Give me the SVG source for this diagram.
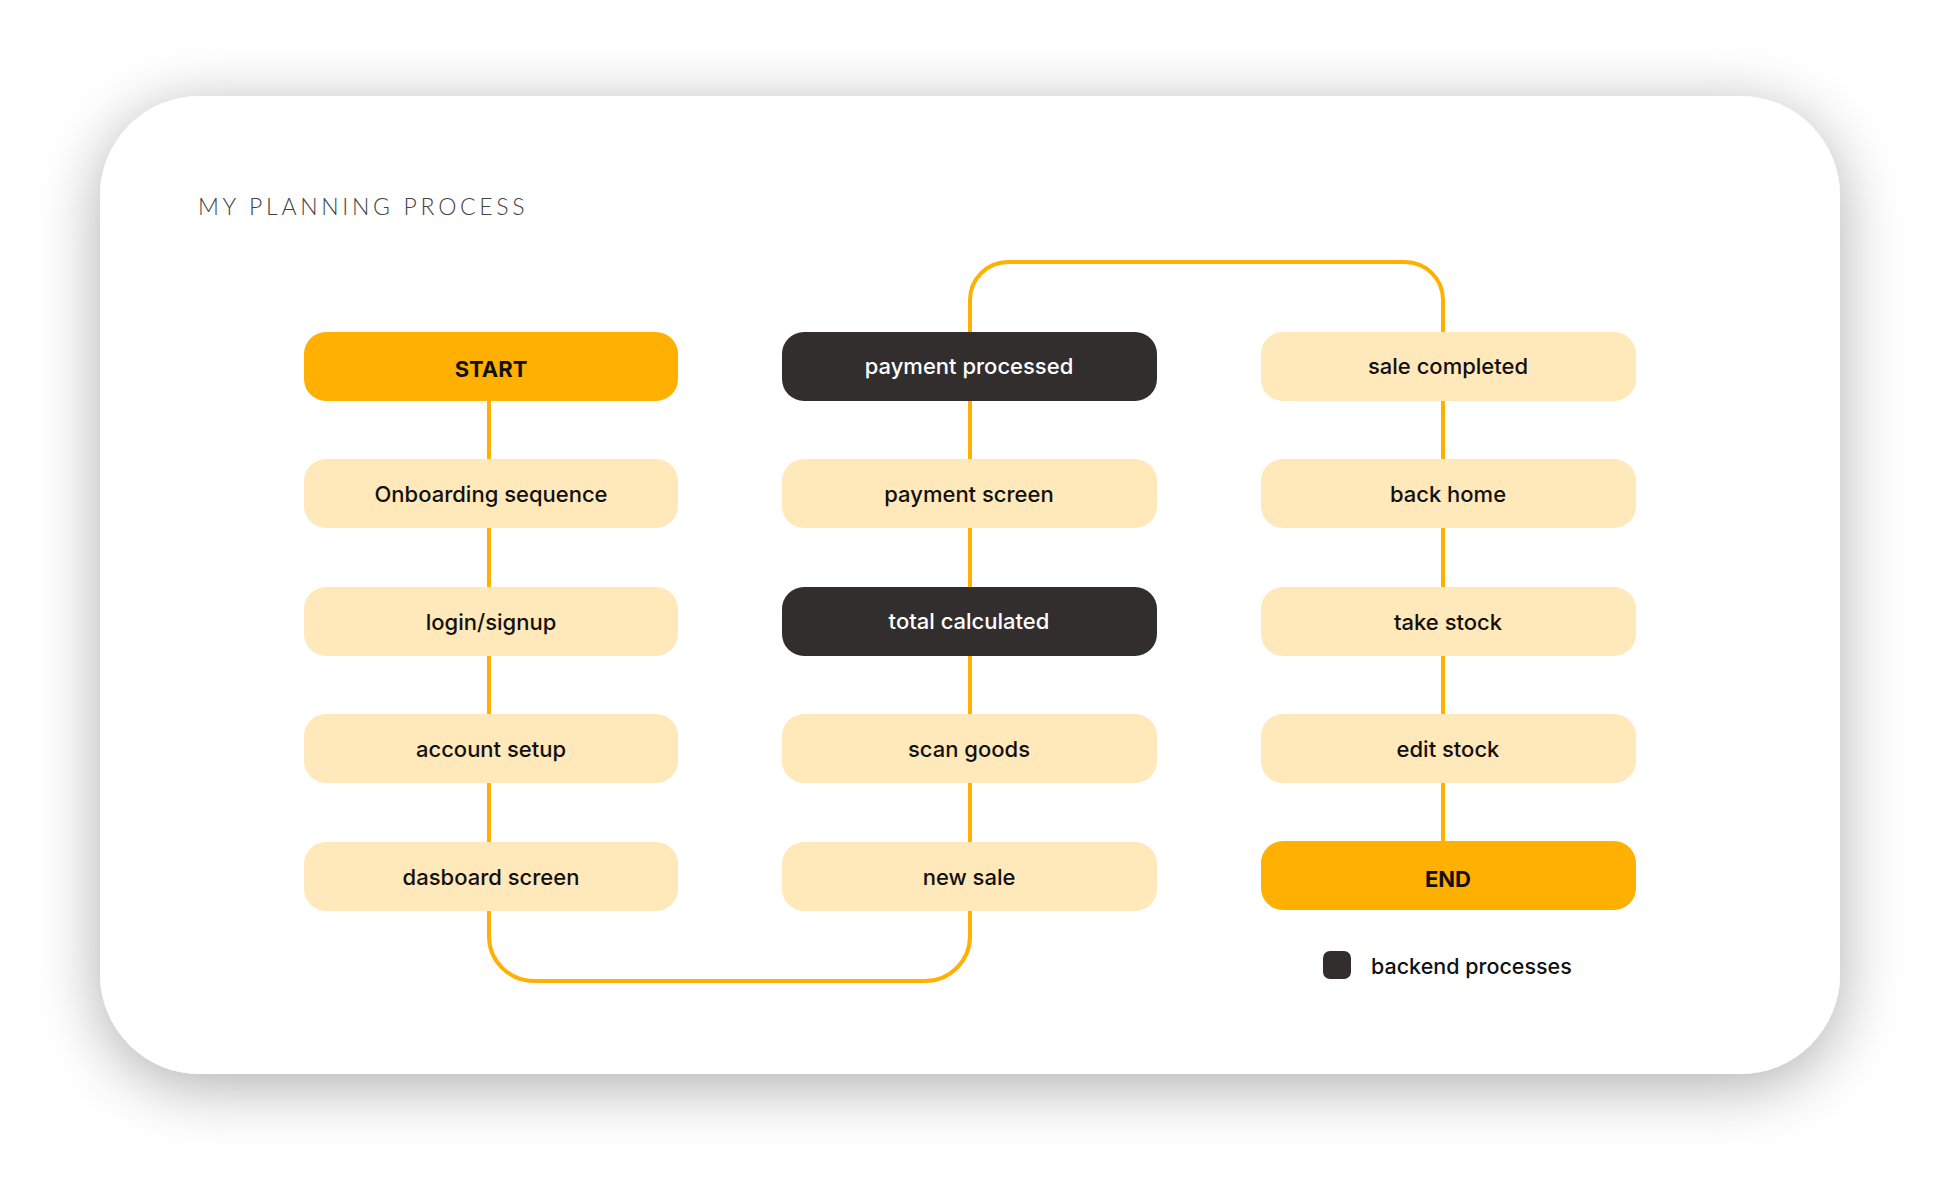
<svg xmlns="http://www.w3.org/2000/svg" width="1940" height="1178" viewBox="0 0 1940 1178">
<defs>
<filter id="shadow" x="-10%" y="-15%" width="120%" height="130%">
<feGaussianBlur in="SourceAlpha" stdDeviation="32"/>
<feOffset dx="0" dy="12" result="b"/>
<feComponentTransfer><feFuncA type="linear" slope="0.32"/></feComponentTransfer>
<feMerge><feMergeNode/><feMergeNode in="SourceGraphic"/></feMerge>
</filter>
<style>
.node rect{rx:22px;ry:22px}
.light rect{fill:#FFE8BA}
.dark rect{fill:#332E2E}
.accent rect{fill:#FFB000}
.node text{font-family:Inter,"Open Sans",sans-serif;font-size:22px;font-weight:500;text-anchor:middle;fill:#111}
.dark text{fill:#fff}
.accent text{font-weight:700}
.conn{fill:none;stroke:#FFB000;stroke-width:4}
</style>
</defs>
<rect width="1940" height="1178" fill="#fff"/>
<rect id="card" x="100" y="96" width="1740" height="978" rx="100" ry="100" fill="#fff" filter="url(#shadow)"/>
<text x="198" y="215" font-family="Lato,'Open Sans',sans-serif" font-weight="300" font-size="23" letter-spacing="3.7" fill="#444">MY PLANNING PROCESS</text>
<g id="connectors">
<path class="conn" d="M489 366 V936 A45 45 0 0 0 534 981 H925 A45 45 0 0 0 970 936 V300 A38 38 0 0 1 1008 262 H1405 A38 38 0 0 1 1443 300 V876"/>
</g>
<g id="n-start" class="node accent"><rect x="304" y="332" width="374" height="69"/><text x="491" y="377">START</text></g>
<g id="n-onboarding" class="node light"><rect x="304" y="459" width="374" height="69"/><text x="491" y="502">Onboarding sequence</text></g>
<g id="n-login" class="node light"><rect x="304" y="587" width="374" height="69"/><text x="491" y="630">login/signup</text></g>
<g id="n-account" class="node light"><rect x="304" y="714" width="374" height="69"/><text x="491" y="757">account setup</text></g>
<g id="n-dashboard" class="node light"><rect x="304" y="842" width="374" height="69"/><text x="491" y="885">dasboard screen</text></g>
<g id="n-payproc" class="node dark"><rect x="782" y="332" width="375" height="69"/><text x="969" y="374">payment processed</text></g>
<g id="n-payscreen" class="node light"><rect x="782" y="459" width="375" height="69"/><text x="969" y="502">payment screen</text></g>
<g id="n-total" class="node dark"><rect x="782" y="587" width="375" height="69"/><text x="969" y="629">total calculated</text></g>
<g id="n-scan" class="node light"><rect x="782" y="714" width="375" height="69"/><text x="969" y="757">scan goods</text></g>
<g id="n-newsale" class="node light"><rect x="782" y="842" width="375" height="69"/><text x="969" y="885">new sale</text></g>
<g id="n-salecomp" class="node light"><rect x="1261" y="332" width="375" height="69"/><text x="1448" y="374">sale completed</text></g>
<g id="n-backhome" class="node light"><rect x="1261" y="459" width="375" height="69"/><text x="1448" y="502">back home</text></g>
<g id="n-takestock" class="node light"><rect x="1261" y="587" width="375" height="69"/><text x="1448" y="630">take stock</text></g>
<g id="n-editstock" class="node light"><rect x="1261" y="714" width="375" height="69"/><text x="1448" y="757">edit stock</text></g>
<g id="n-end" class="node accent"><rect x="1261" y="841" width="375" height="69"/><text x="1448" y="887">END</text></g>
<g id="legend">
<rect x="1323" y="951" width="28" height="28" rx="7" fill="#332E2E"/>
<text x="1371" y="974" font-family="Inter,'Open Sans',sans-serif" font-size="21.5" font-weight="500" fill="#111">backend processes</text>
</g>
</svg>
